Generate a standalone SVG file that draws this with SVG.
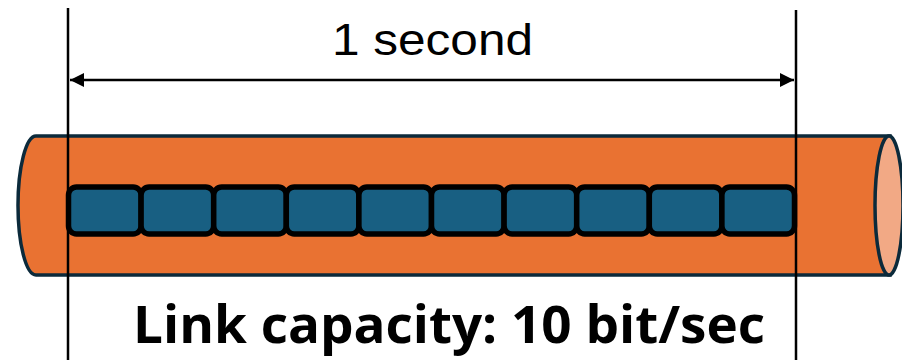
<svg xmlns="http://www.w3.org/2000/svg" width="902" height="360" viewBox="0 0 902 360">
  <style>
    .cable { fill: #e97232; stroke: #0b2a3b; stroke-width: 3.5; }
    .cap { fill: #f2a985; stroke: #0b2a3b; stroke-width: 3.5; }
    .packet { fill: #185f82; stroke: #000; stroke-width: 5.5; }
    .guide { stroke: #000; stroke-width: 2.5; fill: none; }
    .label { font-family: "Liberation Sans", Arial, sans-serif; fill: #000; }
    .caption { font-family: "Open Sans", "Liberation Sans", sans-serif; font-weight: bold; fill: #000; }
  </style>
  <defs>
    <marker id="head" viewBox="0 0 10 10" refX="10" refY="5" markerWidth="14" markerHeight="16" markerUnits="userSpaceOnUse" orient="auto-start-reverse">
      <path d="M0,0 L10,5 L0,10 Z" fill="#000"/>
    </marker>
  </defs>

  <!-- cable body with rounded left end -->
  <g id="cable">
    <path class="cable" d="M890,136 L36,136 A18,69.5 0 0 0 36,275 L890,275 Z"/>
    <ellipse class="cap" cx="889" cy="205.5" rx="14" ry="69.5"/>
  </g>

  <!-- ten bits travelling along the link -->
  <g id="bits">
    <rect class="packet" x="68.5" y="187" width="72.6" height="47" rx="8"/>
    <rect class="packet" x="141.1" y="187" width="72.6" height="47" rx="8"/>
    <rect class="packet" x="213.7" y="187" width="72.6" height="47" rx="8"/>
    <rect class="packet" x="286.3" y="187" width="72.6" height="47" rx="8"/>
    <rect class="packet" x="358.9" y="187" width="72.6" height="47" rx="8"/>
    <rect class="packet" x="431.5" y="187" width="72.6" height="47" rx="8"/>
    <rect class="packet" x="504.1" y="187" width="72.6" height="47" rx="8"/>
    <rect class="packet" x="576.7" y="187" width="72.6" height="47" rx="8"/>
    <rect class="packet" x="649.3" y="187" width="72.6" height="47" rx="8"/>
    <rect class="packet" x="721.9" y="187" width="72.6" height="47" rx="8"/>
  </g>

  <!-- time span markers -->
  <g id="connectors">
    <line class="guide" x1="68" y1="8" x2="68" y2="360"/>
    <line class="guide" x1="796" y1="10" x2="796" y2="360"/>
    <line class="guide" x1="70" y1="80" x2="794" y2="80" marker-start="url(#head)" marker-end="url(#head)"/>
  </g>

  <g id="duration">
    <text class="label" x="432.5" y="55" font-size="44" text-anchor="middle" textLength="201" lengthAdjust="spacingAndGlyphs">1 second</text>
  </g>

  <g id="capacity">
    <text class="caption" x="449" y="343" font-size="52" text-anchor="middle" textLength="632" lengthAdjust="spacingAndGlyphs">Link capacity: 10 bit/sec</text>
  </g>
</svg>
